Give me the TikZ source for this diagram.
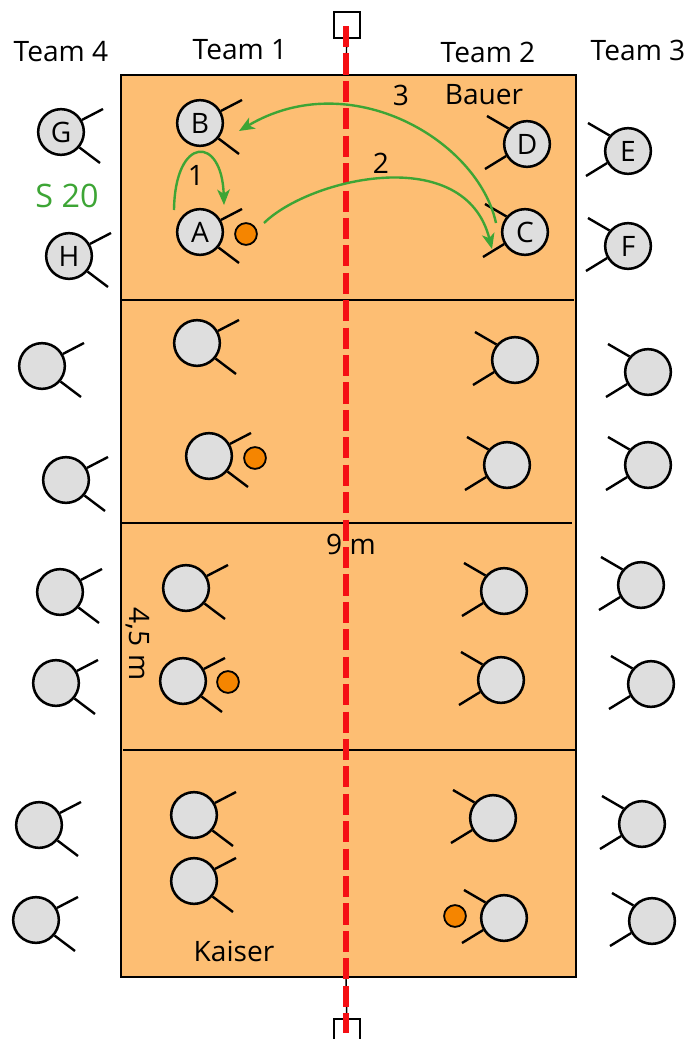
\documentclass[tikz,border=0pt]{standalone}
\usepackage{fontspec}
\setmainfont{Open Sans}
\usetikzlibrary{arrows.meta}

\definecolor{courtfill}{HTML}{FDBE73}
\definecolor{playerfill}{HTML}{DEDEDE}
\definecolor{ballfill}{HTML}{F58500}
\definecolor{passgreen}{HTML}{3DA535}
\definecolor{netred}{HTML}{F50F14}

\tikzset{
    player/.style={draw, circle, fill=playerfill, line width=1.8pt, minimum size=32.5pt, inner sep=0pt, font=\fontsize{20}{20}\selectfont},
    ball/.style={draw, circle, fill=ballfill, line width=1.3pt, minimum size=15.5pt, inner sep=0pt},
    arm/.style={line width=1.7pt},
    courtline/.style={line width=1.9pt},
    post/.style={draw, line width=1.5pt, minimum size=18pt, inner sep=0pt},
    pass/.style={-{Stealth[length=11pt, width=9pt, inset=3pt]}, passgreen, line width=1.7pt},
    lbl/.style={inner sep=0pt, font=\fontsize{20}{20}\selectfont},
}

\begin{document}
\begin{tikzpicture}[x=0.025cm, y=-0.025cm]
        \useasboundingbox (0,0) rectangle (686,1039);
        \begin{scope}
        \clip (0,0) rectangle (686,1039);

        % court
        \draw[courtline, fill=courtfill] (121,75) rectangle (576,977);
        \draw[courtline] (121,300) -- (574,300);
        \draw[courtline] (121,523) -- (572,523);
        \draw[courtline] (123,750) -- (576,750);

        % posts and net
        \coordinate (nettop) at (346,26);
        \coordinate (netbottom) at (346,1033);
        \coordinate (courttop) at (346,75);
        \coordinate (courtbottom) at (346,977);
        \node[post] (post1) at (347,25) {};
        \node[post] (post2) at (347,1032) {};
        \draw[line width=1pt] (post1) -- (courttop);
        \draw[line width=1pt] (courtbottom) -- (post2);
        \draw[netred, line width=3.6pt, dash pattern=on 15pt off 4.5pt] (nettop) -- (netbottom);

        % Team 4
        \node[player] (g) at (61,132) {G};
        \node[player] (h) at (69,256) {H};
        \node[player] (t4c) at (42,366) {};
        \node[player] (t4d) at (66,480) {};
        \node[player] (t4e) at (60,592) {};
        \node[player] (t4f) at (56,683) {};
        \node[player] (t4g) at (39,825) {};
        \node[player] (t4h) at (36,920) {};

        % Team 1
        \node[player] (b) at (200,123) {B};
        \node[player] (a) at (200,232) {A};
        \node[player] (t1c) at (197,343) {};
        \node[player] (t1d) at (209,456) {};
        \node[player] (t1e) at (186,588) {};
        \node[player] (t1f) at (183,681) {};
        \node[player] (t1g) at (194,815) {};
        \node[player] (t1h) at (194,881) {};

        % Team 2
        \node[player] (d) at (527,144) {D};
        \node[player] (c) at (525,232) {C};
        \node[player] (t2c) at (515,360) {};
        \node[player] (t2d) at (507,465) {};
        \node[player] (t2e) at (504,591) {};
        \node[player] (t2f) at (501,680) {};
        \node[player] (t2g) at (493,818) {};
        \node[player] (t2h) at (504,918) {};

        % Team 3
        \node[player] (e) at (628,151) {E};
        \node[player] (f) at (628,246) {F};
        \node[player] (t3c) at (648,372) {};
        \node[player] (t3d) at (648,465) {};
        \node[player] (t3e) at (641,585) {};
        \node[player] (t3f) at (651,684) {};
        \node[player] (t3g) at (642,824) {};
        \node[player] (t3h) at (652,921) {};

        \foreach \who in {g,h,t4c,t4d,t4e,t4f,t4g,t4h,b,a,t1c,t1d,t1e,t1f,t1g,t1h} {
            \draw[arm] (\who.30) -- ([shift={(42,-23)}]\who.center);
            \draw[arm] (\who.-40) -- ([shift={(39,31)}]\who.center);
        }
        \foreach \who in {d,c,t2c,t2d,t2e,t2f,t2g,t2h,e,f,t3c,t3d,t3e,t3f,t3g,t3h} {
            \draw[arm] (\who.140) -- ([shift={(-40,-28)}]\who.center);
            \draw[arm] (\who.210) -- ([shift={(-42,25)}]\who.center);
        }

        % balls
        \node[ball] (ball1) at (246,234) {};
        \node[ball] (ball2) at (255,458) {};
        \node[ball] (ball3) at (228,682) {};
        \node[ball] (ball4) at (455,916) {};

        % passes
        \coordinate (start1) at (174,210);
        \coordinate (end1) at (224,205);
        \coordinate (start2) at (264,223);
        \coordinate (end2) at (492,249);
        \coordinate (start3) at (496,223);
        \coordinate (end3) at (239,131);
        \draw[pass] (start1) .. controls (175,135) and (222,135) .. (end1);
        \draw[pass] (start2) .. controls (310,178) and (465,142) .. (end2);
        \draw[pass] (start3) .. controls (478,140) and (350,65) .. (end3);

        % labels
        \node[lbl] (team4) at (61,52) {Team 4};
        \node[lbl] (team1) at (240,50) {Team 1};
        \node[lbl] (team2) at (488,52) {Team 2};
        \node[lbl] (team3) at (638,50) {Team 3};
        \node[lbl, text=passgreen, font=\fontsize{23}{23}\selectfont] (s20) at (67,196) {S 20};
        \node[lbl] (pass1) at (196,175) {1};
        \node[lbl] (pass2) at (381,163) {2};
        \node[lbl] (pass3) at (401,95) {3};
        \node[lbl] (bauer) at (484,95) {Bauer};
        \node[lbl] (kaiser) at (234,951) {Kaiser};
        \node[lbl] (width) at (351,544) {9 m};
        \node[lbl, rotate=-90] (depth) at (138,644) {4,5 m};
        \end{scope}
\end{tikzpicture}
\end{document}
